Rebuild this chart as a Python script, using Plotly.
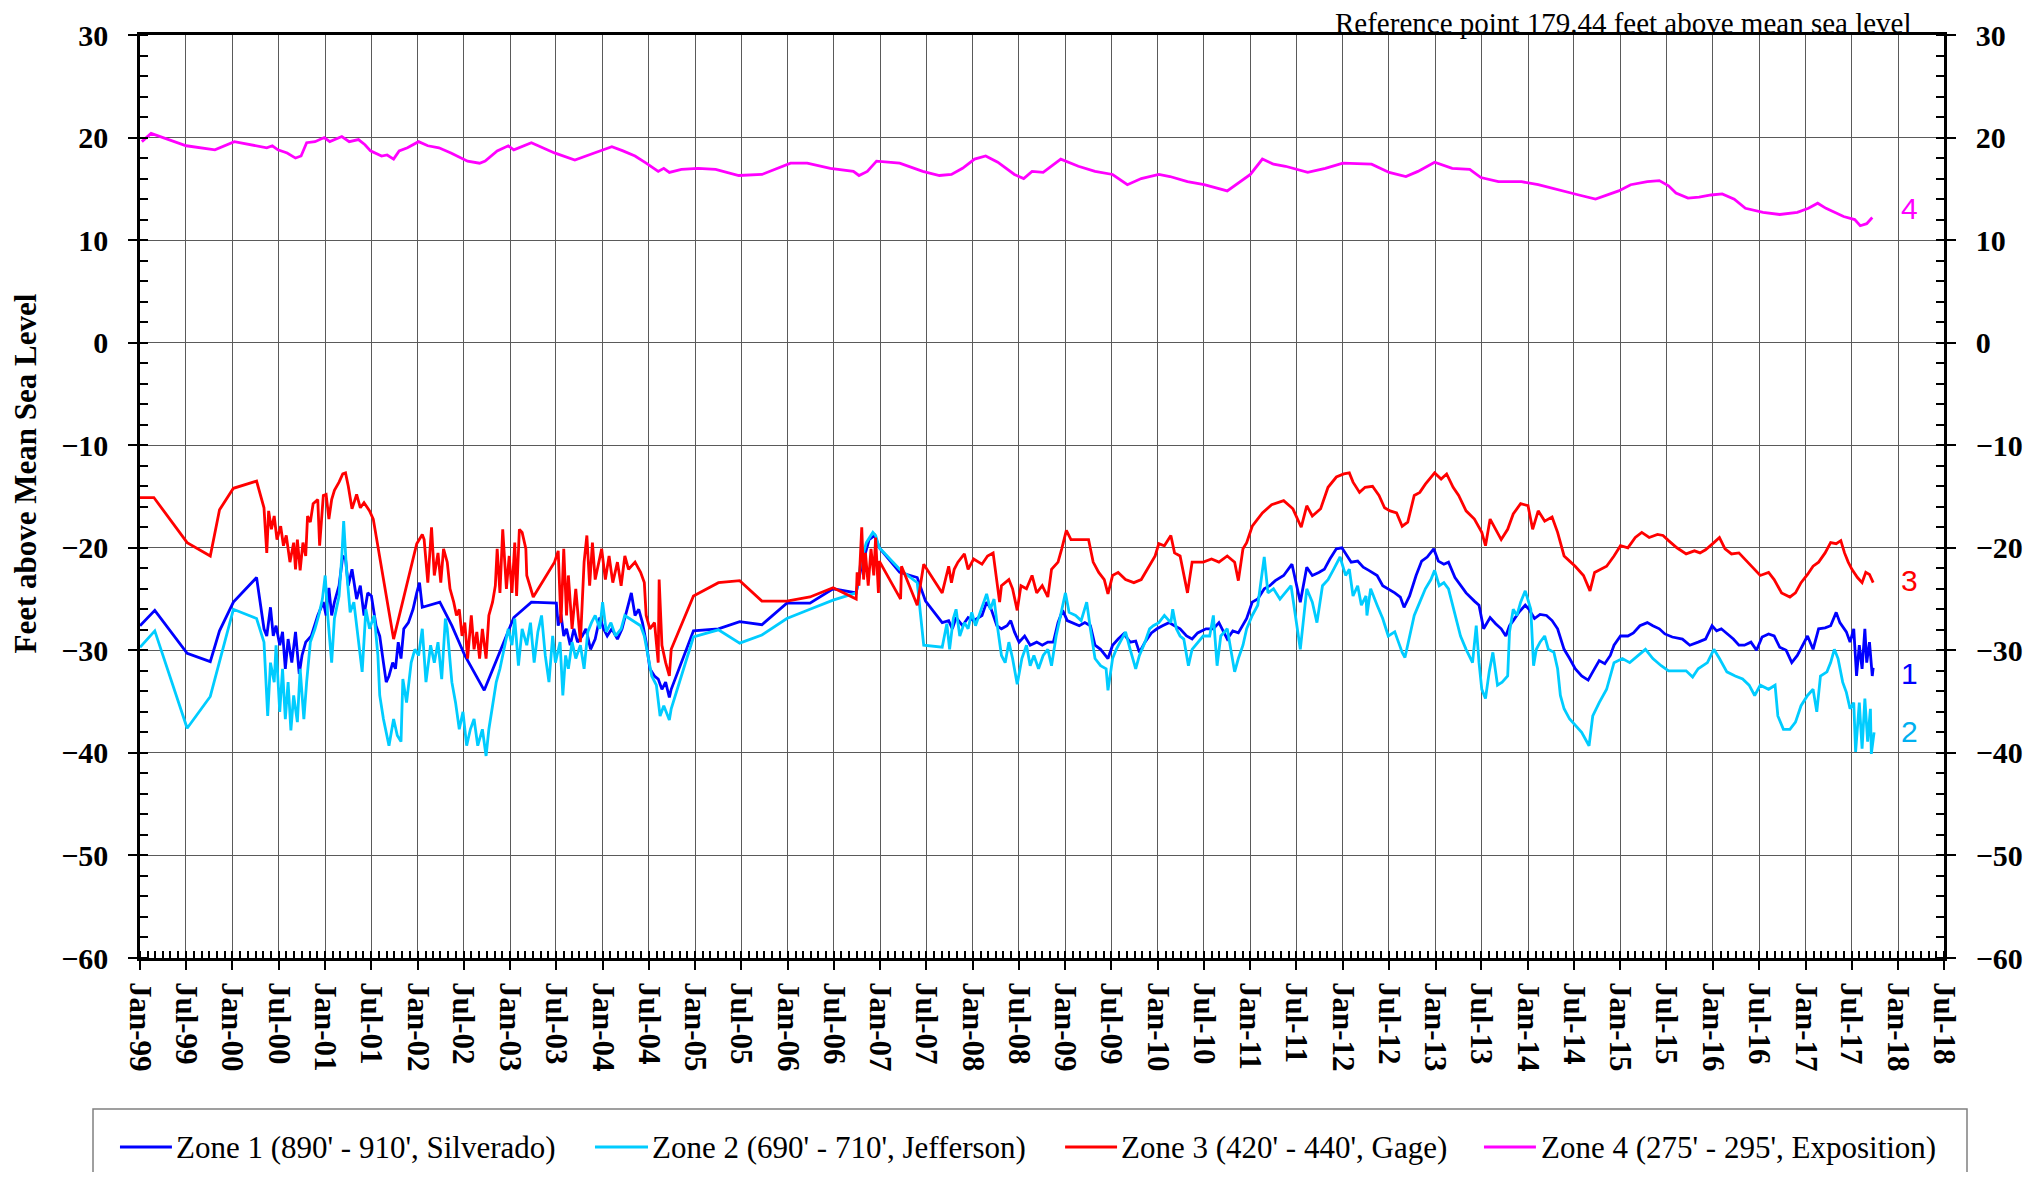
import pandas as pd
import plotly.graph_objects as go

# ---------------- data (decimal year, feet above mean sea level) ----------------
zone1_year = [
    1999.00, 1999.16, 1999.51, 1999.76, 1999.86, 2000.01, 2000.26, 2000.34, 2000.37, 2000.41,
    2000.44, 2000.47, 2000.51, 2000.54, 2000.57, 2000.60, 2000.64, 2000.68, 2000.72, 2000.75,
    2000.79, 2000.85, 2000.92, 2000.98, 2001.01, 2001.04, 2001.07, 2001.10, 2001.15, 2001.19,
    2001.22, 2001.25, 2001.29, 2001.34, 2001.38, 2001.42, 2001.46, 2001.50, 2001.55, 2001.59,
    2001.63, 2001.66, 2001.69, 2001.73, 2001.76, 2001.79, 2001.82, 2001.85, 2001.90, 2001.95,
    2001.99, 2002.02, 2002.05, 2002.24, 2002.37, 2002.51, 2002.72, 2003.04, 2003.23, 2003.50,
    2003.52, 2003.55, 2003.58, 2003.61, 2003.65, 2003.69, 2003.73, 2003.78, 2003.82, 2003.87,
    2003.92, 2003.97, 2004.01, 2004.05, 2004.10, 2004.16, 2004.21, 2004.26, 2004.31, 2004.35,
    2004.39, 2004.43, 2004.47, 2004.51, 2004.56, 2004.60, 2004.64, 2004.68, 2004.72, 2004.74,
    2004.98, 2005.25, 2005.48, 2005.72, 2005.99, 2006.24, 2006.49, 2006.74, 2006.79, 2006.88,
    2006.94, 2006.99, 2007.21, 2007.40, 2007.49, 2007.67, 2007.74, 2007.78, 2007.82, 2007.89,
    2007.95, 2008.01, 2008.10, 2008.15, 2008.20, 2008.26, 2008.31, 2008.37, 2008.41, 2008.45,
    2008.50, 2008.56, 2008.62, 2008.69, 2008.75, 2008.81, 2008.87, 2008.92, 2008.97, 2009.02,
    2009.08, 2009.15, 2009.21, 2009.27, 2009.32, 2009.38, 2009.46, 2009.51, 2009.57, 2009.63,
    2009.70, 2009.76, 2009.80, 2009.86, 2009.93, 2009.99, 2010.05, 2010.12, 2010.18, 2010.24,
    2010.31, 2010.37, 2010.43, 2010.52, 2010.60, 2010.66, 2010.75, 2010.81, 2010.87, 2010.96,
    2011.02, 2011.08, 2011.15, 2011.21, 2011.27, 2011.36, 2011.45, 2011.54, 2011.61, 2011.67,
    2011.74, 2011.80, 2011.86, 2011.93, 2011.99, 2012.05, 2012.09, 2012.16, 2012.22, 2012.28,
    2012.37, 2012.43, 2012.49, 2012.56, 2012.62, 2012.66, 2012.72, 2012.79, 2012.85, 2012.91,
    2012.98, 2013.03, 2013.09, 2013.14, 2013.21, 2013.27, 2013.33, 2013.42, 2013.47, 2013.52,
    2013.59, 2013.65, 2013.71, 2013.76, 2013.80, 2013.84, 2013.90, 2013.97, 2014.01, 2014.07,
    2014.13, 2014.20, 2014.26, 2014.32, 2014.39, 2014.45, 2014.51, 2014.58, 2014.65, 2014.70,
    2014.77, 2014.83, 2014.89, 2014.93, 2015.00, 2015.08, 2015.14, 2015.21, 2015.29, 2015.35,
    2015.42, 2015.48, 2015.56, 2015.67, 2015.75, 2015.84, 2015.92, 2015.99, 2016.04, 2016.09,
    2016.15, 2016.22, 2016.28, 2016.34, 2016.41, 2016.47, 2016.53, 2016.60, 2016.66, 2016.72,
    2016.79, 2016.85, 2016.91, 2016.97, 2017.02, 2017.08, 2017.14, 2017.21, 2017.27, 2017.33,
    2017.37, 2017.44, 2017.48, 2017.52, 2017.55, 2017.58, 2017.61, 2017.64, 2017.66, 2017.69,
    2017.72, 2017.73,
]
zone1_ft = [
    -27.6, -26.1, -30.3, -31.1, -28.1, -25.3, -22.9, -27.9, -28.6, -25.8,
    -28.6, -27.6, -29.5, -28.2, -31.8, -28.9, -31.2, -28.2, -32.3, -30.5,
    -29.2, -28.6, -26.6, -25.3, -26.6, -23.9, -26.6, -25.3, -23.7, -20.8,
    -21.1, -23.7, -22.1, -25.0, -23.7, -26.6, -24.4, -24.7, -27.6, -28.6,
    -31.2, -33.1, -32.5, -31.2, -31.8, -29.2, -30.8, -27.9, -27.3, -26.0,
    -24.4, -23.4, -25.8, -25.3, -27.6, -30.5, -33.9, -26.8, -25.3, -25.4,
    -27.6, -26.5, -28.6, -27.9, -29.5, -27.9, -29.2, -28.6, -27.9, -29.9,
    -28.9, -26.8, -27.9, -28.6, -27.9, -28.9, -27.9, -26.0, -24.4, -26.6,
    -26.0, -27.3, -29.2, -31.8, -32.5, -32.8, -33.8, -33.1, -34.6, -33.8,
    -28.1, -27.9, -27.2, -27.5, -25.4, -25.4, -24.0, -24.4, -22.1, -19.2,
    -18.8, -20.0, -22.4, -22.9, -25.2, -27.3, -27.1, -27.9, -26.8, -27.6,
    -26.8, -27.1, -26.6, -25.3, -26.0, -27.6, -27.9, -27.6, -27.1, -28.2,
    -29.2, -28.6, -29.5, -29.2, -29.5, -29.2, -29.2, -27.3, -26.1, -27.1,
    -27.3, -27.6, -27.3, -27.6, -29.5, -29.9, -30.8, -29.5, -28.9, -28.4,
    -29.2, -29.1, -30.2, -29.2, -28.3, -27.9, -27.6, -27.3, -27.6, -27.9,
    -28.6, -28.9, -28.3, -27.9, -27.9, -27.3, -28.9, -28.1, -28.3, -26.9,
    -25.3, -25.0, -24.0, -23.7, -23.2, -22.7, -21.6, -25.3, -21.9, -22.7,
    -22.4, -22.1, -21.1, -20.1, -20.0, -20.8, -21.4, -21.3, -21.9, -22.2,
    -22.7, -23.7, -24.0, -24.4, -24.8, -25.8, -24.7, -22.7, -21.3, -20.9,
    -20.1, -21.3, -21.6, -21.4, -22.9, -23.7, -24.4, -25.2, -25.6, -27.9,
    -26.8, -27.4, -27.9, -28.6, -27.6, -27.1, -26.3, -25.6, -26.0, -26.9,
    -26.5, -26.6, -27.1, -27.9, -29.9, -30.8, -31.8, -32.5, -32.9, -32.1,
    -31.0, -31.3, -30.5, -29.5, -28.6, -28.6, -28.3, -27.6, -27.3, -27.6,
    -27.9, -28.4, -28.7, -28.9, -29.5, -29.2, -28.9, -27.6, -28.1, -27.9,
    -28.4, -28.9, -29.5, -29.5, -29.2, -30.0, -28.7, -28.4, -28.6, -29.7,
    -30.0, -31.2, -30.5, -29.5, -28.6, -29.9, -27.9, -27.8, -27.6, -26.3,
    -27.3, -28.2, -29.2, -27.9, -32.5, -29.5, -31.8, -27.9, -31.2, -29.2,
    -32.5, -31.7,
]

zone2_year = [
    1999.00, 1999.16, 1999.51, 1999.76, 2000.01, 2000.26, 2000.34, 2000.36, 2000.38, 2000.41,
    2000.45, 2000.47, 2000.51, 2000.54, 2000.57, 2000.60, 2000.63, 2000.66, 2000.70, 2000.73,
    2000.77, 2000.80, 2000.84, 2000.89, 2000.93, 2000.97, 2001.00, 2001.03, 2001.07, 2001.10,
    2001.15, 2001.18, 2001.20, 2001.23, 2001.27, 2001.31, 2001.36, 2001.40, 2001.44, 2001.48,
    2001.53, 2001.57, 2001.59, 2001.63, 2001.69, 2001.74, 2001.78, 2001.82, 2001.84, 2001.88,
    2001.93, 2001.97, 2002.01, 2002.05, 2002.09, 2002.14, 2002.18, 2002.22, 2002.26, 2002.30,
    2002.32, 2002.37, 2002.41, 2002.45, 2002.49, 2002.53, 2002.57, 2002.61, 2002.65, 2002.70,
    2002.74, 2002.77, 2002.81, 2002.85, 2002.89, 2002.94, 2002.98, 2003.02, 2003.05, 2003.09,
    2003.13, 2003.18, 2003.22, 2003.26, 2003.30, 2003.34, 2003.38, 2003.42, 2003.46, 2003.49,
    2003.54, 2003.57, 2003.60, 2003.63, 2003.67, 2003.71, 2003.76, 2003.80, 2003.84, 2003.88,
    2003.92, 2003.97, 2004.00, 2004.04, 2004.09, 2004.14, 2004.20, 2004.24, 2004.29, 2004.35,
    2004.41, 2004.45, 2004.49, 2004.53, 2004.58, 2004.62, 2004.66, 2004.72, 2004.74, 2004.98,
    2005.25, 2005.48, 2005.72, 2005.99, 2006.24, 2006.49, 2006.74, 2006.79, 2006.85, 2006.92,
    2006.95, 2006.99, 2007.21, 2007.40, 2007.47, 2007.67, 2007.72, 2007.75, 2007.79, 2007.82,
    2007.86, 2007.91, 2007.95, 2007.99, 2008.03, 2008.07, 2008.12, 2008.15, 2008.19, 2008.23,
    2008.27, 2008.31, 2008.35, 2008.39, 2008.43, 2008.48, 2008.53, 2008.58, 2008.62, 2008.66,
    2008.71, 2008.76, 2008.81, 2008.85, 2008.90, 2008.95, 2009.00, 2009.04, 2009.11, 2009.17,
    2009.23, 2009.27, 2009.32, 2009.38, 2009.44, 2009.46, 2009.51, 2009.55, 2009.59, 2009.65,
    2009.70, 2009.76, 2009.80, 2009.86, 2009.91, 2009.95, 2010.01, 2010.07, 2010.14, 2010.16,
    2010.20, 2010.24, 2010.28, 2010.33, 2010.37, 2010.43, 2010.49, 2010.56, 2010.60, 2010.64,
    2010.68, 2010.75, 2010.79, 2010.83, 2010.87, 2010.92, 2010.96, 2011.02, 2011.08, 2011.15,
    2011.19, 2011.25, 2011.32, 2011.38, 2011.44, 2011.54, 2011.61, 2011.67, 2011.72, 2011.78,
    2011.84, 2011.90, 2011.97, 2012.03, 2012.07, 2012.11, 2012.16, 2012.20, 2012.25, 2012.26,
    2012.30, 2012.37, 2012.43, 2012.49, 2012.56, 2012.60, 2012.64, 2012.67, 2012.70, 2012.77,
    2012.83, 2012.89, 2012.95, 2012.99, 2013.04, 2013.09, 2013.14, 2013.21, 2013.27, 2013.33,
    2013.40, 2013.44, 2013.47, 2013.50, 2013.54, 2013.58, 2013.62, 2013.67, 2013.72, 2013.78,
    2013.80, 2013.84, 2013.88, 2013.92, 2013.97, 2014.03, 2014.06, 2014.09, 2014.13, 2014.18,
    2014.22, 2014.28, 2014.32, 2014.35, 2014.39, 2014.45, 2014.51, 2014.58, 2014.66, 2014.70,
    2014.77, 2014.85, 2014.93, 2015.02, 2015.10, 2015.19, 2015.27, 2015.35, 2015.44, 2015.52,
    2015.61, 2015.71, 2015.78, 2015.84, 2015.94, 2016.01, 2016.07, 2016.15, 2016.24, 2016.32,
    2016.39, 2016.45, 2016.51, 2016.60, 2016.67, 2016.70, 2016.76, 2016.83, 2016.89, 2016.95,
    2017.02, 2017.08, 2017.12, 2017.16, 2017.23, 2017.27, 2017.31, 2017.35, 2017.40, 2017.44,
    2017.48, 2017.52, 2017.54, 2017.58, 2017.61, 2017.64, 2017.67, 2017.70, 2017.71, 2017.74,
]
zone2_ft = [
    -29.7, -28.1, -37.6, -34.5, -26.0, -26.9, -29.2, -33.4, -36.4, -31.2,
    -33.1, -29.5, -36.0, -31.8, -36.7, -33.1, -37.8, -34.4, -37.0, -31.8,
    -36.7, -33.1, -29.2, -27.9, -26.6, -25.0, -22.7, -26.9, -31.2, -26.9,
    -24.7, -20.8, -17.4, -22.1, -26.3, -25.3, -29.2, -32.1, -26.0, -27.9,
    -26.6, -30.5, -34.4, -36.7, -39.3, -36.7, -38.3, -38.9, -32.8, -35.1,
    -31.2, -29.9, -30.5, -27.9, -33.1, -29.5, -31.2, -29.2, -32.8, -26.9,
    -27.9, -33.1, -35.1, -37.7, -36.0, -39.3, -37.7, -36.7, -39.3, -37.7,
    -40.3, -37.7, -35.4, -33.1, -31.8, -29.5, -27.9, -29.5, -26.9, -31.5,
    -27.9, -29.5, -27.3, -31.2, -28.2, -26.6, -30.5, -33.1, -28.6, -31.2,
    -29.2, -34.4, -30.5, -31.8, -29.2, -30.8, -29.5, -31.8, -28.2, -27.3,
    -26.6, -27.9, -25.3, -28.2, -27.3, -28.6, -27.9, -26.6, -26.9, -27.3,
    -27.6, -28.6, -30.5, -32.5, -33.4, -36.4, -35.4, -36.8, -35.7, -28.7,
    -28.0, -29.3, -28.5, -26.9, -26.0, -25.1, -24.4, -21.4, -19.5, -18.5,
    -18.8, -20.0, -22.1, -23.4, -29.5, -29.7, -27.4, -29.9, -26.9, -26.0,
    -28.6, -27.3, -27.9, -26.3, -27.6, -26.6, -25.3, -24.5, -26.0, -25.0,
    -27.9, -30.5, -31.2, -29.2, -30.8, -33.3, -30.8, -29.5, -31.5, -30.5,
    -31.8, -30.5, -29.9, -31.5, -28.6, -26.6, -24.4, -26.3, -26.6, -27.1,
    -25.3, -27.9, -30.8, -31.5, -31.8, -33.9, -30.8, -29.9, -29.2, -28.2,
    -29.9, -31.8, -30.5, -29.2, -27.9, -27.6, -27.3, -26.6, -27.3, -26.0,
    -27.9, -28.6, -28.9, -31.5, -29.9, -29.2, -28.6, -28.6, -26.6, -31.5,
    -28.6, -27.9, -29.9, -32.1, -30.8, -29.5, -27.9, -26.6, -25.6, -20.9,
    -24.4, -24.0, -25.0, -24.4, -23.7, -29.9, -24.0, -25.3, -27.3, -23.7,
    -23.1, -22.1, -20.9, -22.7, -22.1, -24.7, -23.7, -25.6, -24.7, -26.6,
    -24.0, -25.6, -26.9, -28.6, -28.2, -29.2, -30.2, -30.7, -29.5, -26.6,
    -25.3, -24.0, -23.1, -22.2, -23.7, -23.4, -24.0, -26.6, -28.6, -29.9,
    -31.2, -27.6, -31.2, -33.8, -34.7, -32.1, -30.2, -33.4, -33.1, -32.5,
    -28.2, -26.0, -26.6, -25.3, -24.2, -26.0, -31.5, -29.9, -29.2, -28.6,
    -29.9, -30.2, -31.8, -34.4, -35.7, -36.7, -37.3, -38.0, -39.3, -36.4,
    -35.1, -33.8, -31.2, -30.8, -31.2, -30.5, -29.9, -30.8, -31.5, -32.0,
    -32.0, -32.0, -32.6, -31.8, -31.2, -29.9, -30.8, -32.1, -32.5, -32.8,
    -33.4, -34.4, -33.4, -33.8, -33.4, -36.4, -37.7, -37.7, -37.0, -35.4,
    -34.4, -33.8, -36.0, -32.5, -32.1, -31.2, -29.9, -30.8, -33.1, -34.1,
    -35.7, -35.1, -39.9, -35.1, -39.6, -34.7, -38.9, -35.7, -40.1, -38.0,
]

zone3_year = [
    1999.00, 1999.15, 1999.51, 1999.76, 1999.86, 2000.01, 2000.26, 2000.34, 2000.37, 2000.39,
    2000.42, 2000.45, 2000.48, 2000.52, 2000.55, 2000.58, 2000.62, 2000.66, 2000.68, 2000.70,
    2000.73, 2000.76, 2000.79, 2000.81, 2000.84, 2000.87, 2000.92, 2000.94, 2000.98, 2001.01,
    2001.04, 2001.07, 2001.10, 2001.15, 2001.19, 2001.22, 2001.25, 2001.29, 2001.34, 2001.38,
    2001.42, 2001.48, 2001.52, 2001.74, 2001.99, 2002.05, 2002.07, 2002.11, 2002.15, 2002.18,
    2002.22, 2002.25, 2002.28, 2002.32, 2002.35, 2002.39, 2002.42, 2002.45, 2002.48, 2002.51,
    2002.54, 2002.58, 2002.61, 2002.64, 2002.67, 2002.70, 2002.74, 2002.77, 2002.81, 2002.84,
    2002.86, 2002.89, 2002.92, 2002.96, 2002.99, 2003.02, 2003.05, 2003.07, 2003.10, 2003.13,
    2003.17, 2003.18, 2003.25, 2003.48, 2003.52, 2003.55, 2003.58, 2003.61, 2003.63, 2003.67,
    2003.71, 2003.76, 2003.80, 2003.83, 2003.86, 2003.89, 2003.92, 2003.96, 2003.99, 2004.03,
    2004.07, 2004.11, 2004.16, 2004.20, 2004.24, 2004.28, 2004.35, 2004.41, 2004.45, 2004.47,
    2004.51, 2004.56, 2004.60, 2004.61, 2004.64, 2004.68, 2004.72, 2004.74, 2004.98, 2005.25,
    2005.48, 2005.72, 2005.99, 2006.24, 2006.49, 2006.74, 2006.75, 2006.77, 2006.80, 2006.82,
    2006.84, 2006.87, 2006.90, 2006.93, 2006.95, 2006.98, 2006.99, 2007.22, 2007.23, 2007.40,
    2007.47, 2007.67, 2007.74, 2007.77, 2007.80, 2007.84, 2007.91, 2007.95, 2008.01, 2008.10,
    2008.16, 2008.22, 2008.24, 2008.29, 2008.31, 2008.39, 2008.43, 2008.48, 2008.52, 2008.58,
    2008.64, 2008.69, 2008.75, 2008.81, 2008.85, 2008.92, 2008.96, 2009.01, 2009.06, 2009.15,
    2009.25, 2009.30, 2009.36, 2009.42, 2009.46, 2009.51, 2009.57, 2009.65, 2009.74, 2009.82,
    2009.91, 2009.97, 2010.01, 2010.07, 2010.14, 2010.18, 2010.24, 2010.32, 2010.37, 2010.49,
    2010.58, 2010.66, 2010.75, 2010.83, 2010.87, 2010.92, 2010.96, 2011.02, 2011.13, 2011.23,
    2011.36, 2011.46, 2011.55, 2011.61, 2011.67, 2011.76, 2011.84, 2011.93, 2012.01, 2012.07,
    2012.11, 2012.18, 2012.24, 2012.32, 2012.39, 2012.45, 2012.51, 2012.58, 2012.64, 2012.70,
    2012.77, 2012.83, 2012.89, 2012.99, 2013.06, 2013.12, 2013.19, 2013.25, 2013.33, 2013.42,
    2013.50, 2013.54, 2013.59, 2013.65, 2013.71, 2013.78, 2013.84, 2013.92, 2014.00, 2014.05,
    2014.11, 2014.18, 2014.26, 2014.32, 2014.39, 2014.45, 2014.51, 2014.60, 2014.67, 2014.72,
    2014.79, 2014.85, 2014.93, 2015.00, 2015.08, 2015.16, 2015.23, 2015.31, 2015.40, 2015.46,
    2015.52, 2015.61, 2015.71, 2015.80, 2015.86, 2015.92, 2016.01, 2016.07, 2016.13, 2016.20,
    2016.28, 2016.36, 2016.43, 2016.51, 2016.60, 2016.66, 2016.74, 2016.83, 2016.89, 2016.95,
    2017.02, 2017.08, 2017.14, 2017.21, 2017.27, 2017.33, 2017.38, 2017.42, 2017.46, 2017.50,
    2017.56, 2017.61, 2017.65, 2017.69, 2017.73,
]
zone3_ft = [
    -15.1, -15.1, -19.5, -20.8, -16.3, -14.2, -13.5, -16.1, -20.5, -16.4,
    -18.2, -16.9, -19.2, -17.9, -19.8, -18.8, -21.4, -19.5, -22.1, -19.2,
    -22.2, -19.5, -20.8, -16.9, -17.5, -15.7, -15.3, -19.8, -14.9, -14.8,
    -17.2, -15.3, -14.4, -13.6, -12.8, -12.7, -14.0, -16.2, -14.8, -16.1,
    -15.6, -16.4, -17.2, -28.9, -19.6, -18.7, -19.2, -23.4, -18.0, -22.7,
    -20.5, -23.4, -20.1, -21.4, -24.0, -25.3, -26.6, -26.0, -28.6, -27.3,
    -30.8, -26.6, -29.9, -28.2, -30.8, -27.9, -30.8, -26.6, -25.3, -23.7,
    -20.1, -24.4, -18.2, -24.0, -20.8, -24.4, -19.5, -24.7, -18.2, -18.5,
    -20.1, -22.7, -24.8, -21.4, -20.3, -27.3, -20.1, -26.6, -22.7, -27.9,
    -24.0, -29.2, -21.4, -18.8, -23.7, -19.5, -23.1, -21.4, -20.1, -23.1,
    -20.8, -23.4, -21.4, -23.7, -20.8, -22.1, -21.4, -22.4, -23.4, -26.6,
    -27.9, -27.3, -31.2, -23.1, -29.5, -31.2, -32.5, -29.9, -24.7, -23.4,
    -23.2, -25.2, -25.2, -24.8, -23.9, -25.0, -22.4, -23.7, -18.0, -23.1,
    -20.5, -23.7, -20.1, -22.7, -19.0, -24.4, -21.3, -25.0, -21.8, -25.6,
    -21.6, -24.4, -21.8, -23.4, -22.1, -21.4, -20.6, -22.1, -21.1, -21.6,
    -20.8, -20.5, -21.8, -25.3, -23.7, -23.1, -24.0, -26.1, -23.7, -24.0,
    -22.7, -24.4, -23.7, -24.8, -22.1, -21.4, -20.1, -18.3, -19.2, -19.2,
    -19.2, -21.4, -22.4, -23.1, -24.5, -22.7, -22.4, -23.1, -23.4, -23.1,
    -21.8, -20.8, -19.6, -19.8, -18.8, -20.5, -20.8, -24.4, -21.4, -21.4,
    -21.1, -21.4, -20.8, -21.4, -23.2, -20.1, -19.5, -17.9, -16.6, -15.8,
    -15.4, -16.2, -18.0, -15.9, -16.9, -16.2, -14.1, -13.1, -12.8, -12.7,
    -13.6, -14.6, -14.1, -14.0, -14.9, -16.1, -16.4, -16.6, -17.9, -17.5,
    -14.9, -14.6, -13.8, -12.7, -13.3, -12.8, -14.1, -14.9, -16.4, -17.2,
    -18.5, -19.8, -17.2, -18.2, -19.2, -18.2, -16.7, -15.7, -15.9, -18.2,
    -16.4, -17.4, -17.0, -18.5, -20.8, -21.3, -21.8, -22.7, -24.2, -22.4,
    -22.1, -21.8, -20.8, -19.8, -20.0, -19.0, -18.5, -19.0, -18.7, -18.8,
    -19.3, -20.0, -20.6, -20.3, -20.5, -20.2, -19.5, -19.0, -20.1, -20.6,
    -20.5, -21.3, -21.9, -22.7, -22.4, -23.1, -24.4, -24.8, -24.4, -23.4,
    -22.6, -21.8, -21.4, -20.5, -19.5, -19.6, -19.3, -20.5, -21.4, -22.1,
    -22.9, -23.4, -22.4, -22.6, -23.4,
]

zone4_year = [
    1999.02, 1999.12, 1999.50, 1999.81, 2000.02, 2000.37, 2000.43, 2000.49, 2000.59, 2000.68,
    2000.74, 2000.80, 2000.89, 2000.99, 2001.05, 2001.18, 2001.26, 2001.36, 2001.43, 2001.49,
    2001.61, 2001.67, 2001.74, 2001.80, 2001.89, 2002.01, 2002.11, 2002.23, 2002.36, 2002.54,
    2002.67, 2002.73, 2002.86, 2002.98, 2003.04, 2003.23, 2003.48, 2003.70, 2003.91, 2004.10,
    2004.22, 2004.35, 2004.47, 2004.60, 2004.66, 2004.72, 2004.85, 2005.03, 2005.22, 2005.47,
    2005.72, 2006.03, 2006.21, 2006.46, 2006.71, 2006.77, 2006.86, 2006.96, 2007.21, 2007.46,
    2007.64, 2007.77, 2007.89, 2008.02, 2008.14, 2008.27, 2008.45, 2008.55, 2008.64, 2008.76,
    2008.95, 2009.14, 2009.32, 2009.51, 2009.67, 2009.82, 2010.01, 2010.13, 2010.32, 2010.50,
    2010.75, 2010.88, 2011.00, 2011.13, 2011.25, 2011.38, 2011.62, 2011.81, 2012.00, 2012.31,
    2012.50, 2012.68, 2012.81, 2012.99, 2013.18, 2013.37, 2013.49, 2013.68, 2013.93, 2014.11,
    2014.36, 2014.55, 2014.73, 2014.86, 2014.98, 2015.11, 2015.29, 2015.42, 2015.52, 2015.60,
    2015.73, 2015.85, 2015.98, 2016.10, 2016.23, 2016.35, 2016.54, 2016.72, 2016.91, 2017.03,
    2017.13, 2017.22, 2017.41, 2017.53, 2017.59, 2017.66, 2017.72,
]
zone4_ft = [
    19.6, 20.4, 19.2, 18.8, 19.6, 19.0, 19.2, 18.8, 18.5, 18.0,
    18.2, 19.5, 19.6, 20.0, 19.6, 20.1, 19.6, 19.8, 19.3, 18.7,
    18.2, 18.3, 17.9, 18.7, 19.0, 19.6, 19.2, 19.0, 18.5, 17.7,
    17.5, 17.7, 18.7, 19.2, 18.8, 19.5, 18.5, 17.8, 18.5, 19.1,
    18.7, 18.2, 17.5, 16.7, 17.0, 16.6, 16.9, 17.0, 16.9, 16.3,
    16.4, 17.5, 17.5, 17.0, 16.7, 16.3, 16.7, 17.7, 17.5, 16.7,
    16.3, 16.4, 17.0, 17.9, 18.2, 17.6, 16.4, 16.0, 16.7, 16.6,
    17.9, 17.2, 16.7, 16.4, 15.4, 16.0, 16.4, 16.2, 15.7, 15.4,
    14.8, 15.6, 16.4, 17.9, 17.4, 17.2, 16.6, 17.0, 17.5, 17.4,
    16.6, 16.2, 16.7, 17.6, 17.0, 16.9, 16.1, 15.7, 15.7, 15.4,
    14.8, 14.4, 14.0, 14.4, 14.8, 15.4, 15.7, 15.8, 15.3, 14.6,
    14.1, 14.2, 14.4, 14.5, 14.0, 13.1, 12.7, 12.5, 12.7, 13.1,
    13.6, 13.1, 12.3, 12.0, 11.4, 11.6, 12.2,
]

zone_names = [
    "Zone 1 (890' - 910', Silverado)",
    "Zone 2 (690' - 710', Jefferson)",
    "Zone 3 (420' - 440', Gage)",
    "Zone 4 (275' - 295', Exposition)",
]
zone_colors = ["#0000FF", "#00CCFF", "#FF0000", "#FF00FF"]
end_labels = ["1", "2", "3", "4"]
end_label_colors = ["#0000FF", "#00B0F0", "#FF0000", "#FF00FF"]
end_label_values = [-32.3, -37.9, -23.2, 13.1]
y_title = "Feet above Mean Sea Level"
ref_note = "Reference point 179.44 feet above mean sea level"


def to_dates(years):
    out = []
    for y in years:
        yr = int(y)
        a = pd.Timestamp(year=yr, month=1, day=1)
        b = pd.Timestamp(year=yr + 1, month=1, day=1)
        out.append(a + (b - a) * (y - yr))
    return out


SERIF = "Liberation Serif, Times New Roman, serif"
SANS = "Liberation Sans, Arial, sans-serif"

fig = go.Figure()
series = [(zone1_year, zone1_ft), (zone2_year, zone2_ft), (zone3_year, zone3_ft), (zone4_year, zone4_ft)]
for i, (yrs, vals) in enumerate(series):
    fig.add_trace(go.Scatter(
        x=to_dates(yrs), y=vals, mode="lines", name=zone_names[i],
        line=dict(color=zone_colors[i], width=2.8),
        yaxis="y2" if i == 3 else "y", showlegend=False,
    ))

tickfont = dict(family=SERIF, size=30, color="black", weight="bold")
yaxis_common = dict(
    range=[-60, 30], tickmode="linear", tick0=0, dtick=10,
    ticks="outside", ticklen=9, tickwidth=2, tickcolor="black",
    showline=True, linewidth=2.5, linecolor="black", zeroline=False,
    tickfont=tickfont, ticklabelstandoff=14, automargin=False,
    minor=dict(dtick=2, tick0=0, ticks="inside", ticklen=8, tickwidth=2,
               tickcolor="black", showgrid=False),
)

# page body has an 8px margin; size the figure so that it fills the 2032x1180 window
fig.update_layout(
    width=2016, height=1164,
    margin=dict(l=132, r=80, t=27, b=214),
    paper_bgcolor="white", plot_bgcolor="white",
    showlegend=False,
    xaxis=dict(
        type="date", range=["1999-01-01", "2018-07-01"],
        tickmode="linear", tick0="1999-01-01", dtick="M6", tickformat="%b-%y",
        tickangle=90, ticks="outside", ticklen=9, tickwidth=2, tickcolor="black",
        showline=True, linewidth=2.5, linecolor="black", mirror=True,
        showgrid=True, gridcolor="#5a5a5a", gridwidth=1,
        tickfont=dict(family=SERIF, size=31, color="black", weight="bold"),
        ticklabelstandoff=6, automargin=False,
        minor=dict(dtick="M1", tick0="1999-01-01", ticks="inside", ticklen=7,
                   tickwidth=1.5, tickcolor="black", showgrid=False),
    ),
    yaxis=dict(**yaxis_common, showgrid=True, gridcolor="#5a5a5a", gridwidth=1),
    yaxis2=dict(**yaxis_common, overlaying="y", side="right", showgrid=False),
)

# y-axis title
fig.add_annotation(
    text="<b>" + y_title + "</b>", xref="paper", yref="paper",
    x=-0.0637, y=0.525, xanchor="center", yanchor="middle", textangle=-90,
    showarrow=False, font=dict(family=SERIF, size=31, color="black"),
)
# reference note
fig.add_annotation(
    text=ref_note, xref="paper", yref="paper", x=0.983, y=1.0,
    xanchor="right", yanchor="bottom", yshift=-5, showarrow=False, borderpad=0,
    font=dict(family=SERIF, size=29, color="black"),
)
# end-of-line zone labels
for lab, col, val in zip(end_labels, end_label_colors, end_label_values):
    fig.add_annotation(
        text=lab, xref="paper", yref="y", x=0.9806, y=val,
        xanchor="center", yanchor="middle", showarrow=False,
        font=dict(family=SANS, size=30, color=col),
    )

# legend (drawn as box, key lines and texts below the plot)
fig.add_shape(type="rect", xref="paper", yref="paper",
              x0=-0.02605, x1=1.01275, y0=-0.1636, y1=-0.26,
              line=dict(color="#808080", width=1.5), fillcolor="rgba(0,0,0,0)")
legend_line_x = [(-0.0111, 0.0177), (0.2522, 0.2816), (0.5128, 0.5416), (0.7450, 0.7738)]
legend_text_x = [0.0194, 0.2833, 0.5432, 0.7761]
leg_y = -0.2048
for i in range(4):
    x0, x1 = legend_line_x[i]
    fig.add_shape(type="line", xref="paper", yref="paper", x0=x0, x1=x1,
                  y0=leg_y, y1=leg_y, line=dict(color=zone_colors[i], width=3))
    fig.add_annotation(
        text=zone_names[i], xref="paper", yref="paper", x=legend_text_x[i], y=leg_y,
        xanchor="left", yanchor="middle", showarrow=False, borderpad=0,
        font=dict(family=SERIF, size=31, color="black"),
    )

fig.write_html("out.html")
